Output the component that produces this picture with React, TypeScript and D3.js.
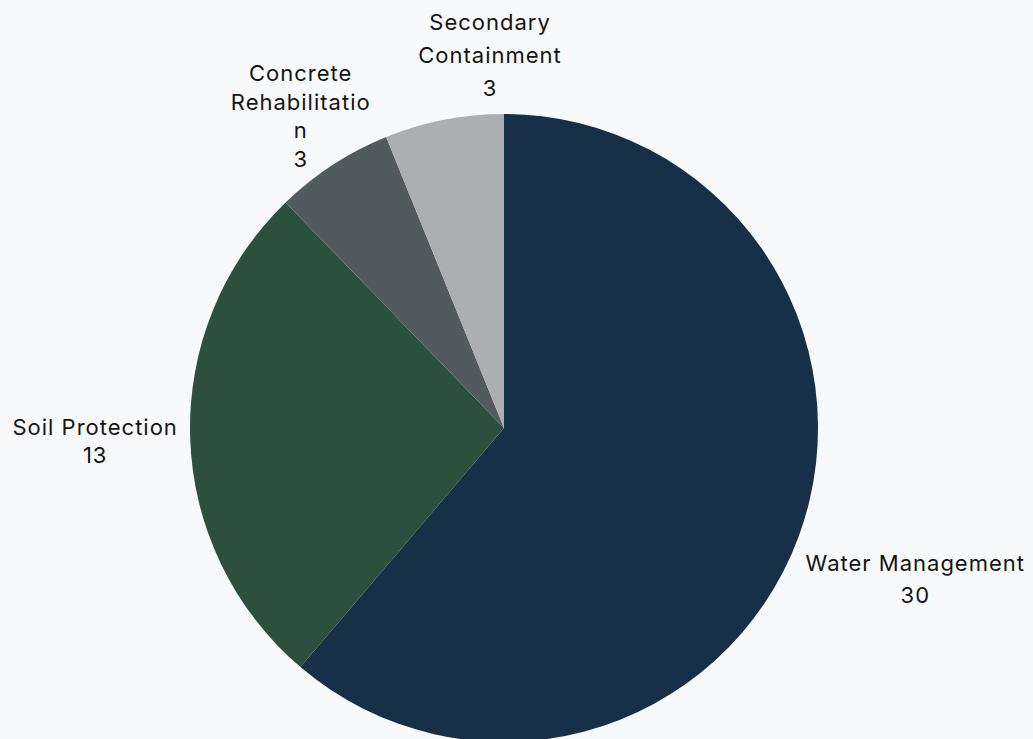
import React from "react";
import * as d3 from "d3";

const categories = ["Water Management", "Soil Protection", "Concrete Rehabilitation", "Secondary Containment"];
const values = [30, 13, 3, 3];
const labelLines = [["Water Management"], ["Soil Protection"], ["Concrete", "Rehabilitatio", "n"], ["Secondary", "Containment"]];
const colors = ["#172f47", "#2c4f3e", "#515a5c", "#adaeb0"];

const W = 1033;
const H = 739;
const cx = 504;
const cy = 428;
const R = 314;
const FS = 22;
const BOX_LH = 31;
const OFFSET = 6;
// layout constants for label placement
const lineHeights = [32, 28, 28.5, 33];
const nudges: [number, number][] = [[0, 29.5], [-5, 2], [18.5, 18], [62, -12]];
const widthsApprox = [222, 168, 145, 152];

export default function App() {
  const pie = d3.pie<number>().sort(null).value((d) => d);
  const arcs = pie(values);
  const arc = d3.arc<d3.PieArcDatum<number>>().innerRadius(0).outerRadius(R);

  return (
    <div style={{ position: "fixed", left: 0, top: 0, width: W, height: H, background: "#f8f9fb", overflow: "hidden" }}>
      <svg width={W} height={H} style={{ display: "block" }}>
        <g transform={`translate(${cx},${cy})`}>
          {arcs.map((a, i) => (
            <path key={i} d={arc(a) || ""} fill={colors[i]} stroke="none">
              <title>{categories[i]}</title>
            </path>
          ))}
        </g>
        {arcs.map((a, i) => {
          const mid = (a.startAngle + a.endAngle) / 2;
          const vx = Math.sin(mid);
          const vy = -Math.cos(mid);
          const ax = cx + R * vx;
          const ay = cy + R * vy;
          const lines = [...labelLines[i], String(values[i])];
          const w = widthsApprox[i];
          const h = lines.length * BOX_LH;
          const vs = 1 / Math.max(Math.abs(vx), Math.abs(vy));
          const x = ax + (w / 2) * vx * vs + OFFSET * vx + nudges[i][0];
          const y = ay + (h / 2) * vy * vs + OFFSET * vy + nudges[i][1];
          const lh = lineHeights[i];
          const top = y - (lines.length * lh) / 2;
          return (
            <text
              key={"l" + i}
              textAnchor="middle"
              fontFamily="Inter, Roboto, sans-serif"
              fontSize={FS}
              letterSpacing={1}
              fill="#141414"
            >
              {lines.map((ln, j) => (
                <tspan key={j} x={x} y={top + lh * j + lh / 2} dominantBaseline="central">
                  {ln}
                </tspan>
              ))}
            </text>
          );
        })}
      </svg>
    </div>
  );
}
